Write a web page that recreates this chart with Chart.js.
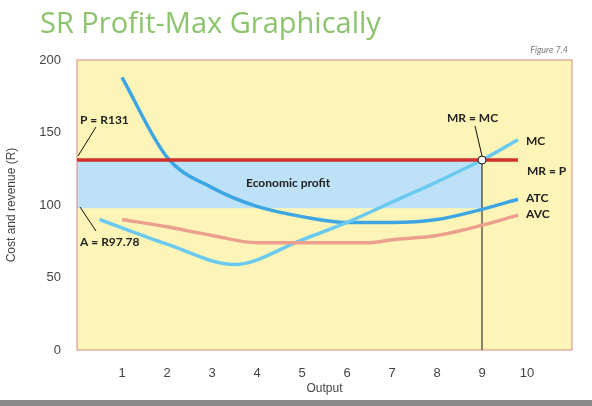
<!DOCTYPE html>
<html><head><meta charset="utf-8">
<script src="https://cdn.jsdelivr.net/npm/chart.js@4"></script>
<style>
body{margin:0;background:#fff;width:592px;height:406px;overflow:hidden;font-family:Lato,"Open Sans",sans-serif;position:relative}
#title{position:absolute;left:40px;top:2px;font-family:"Open Sans",sans-serif;font-size:29px;color:#8cc46e;z-index:2}
#fig{position:absolute;right:24px;top:44px;font-size:9px;font-style:italic;color:#777;z-index:2}
#bar{position:absolute;left:0;bottom:0;width:592px;height:6px;background:#8a8a8a}
#c{position:absolute;left:0;top:0}
</style></head>
<body>
<canvas id="c" width="592" height="400" style="width:592px;height:400px"></canvas>
<div id="title">SR Profit-Max Graphically</div>
<div id="fig">Figure 7.4</div>
<div id="bar"></div>
<script>
const xTicks = [1, 2, 3, 4, 5, 6, 7, 8, 9, 10];
const yTicks = [0, 50, 100, 150, 200];
const price = 131;
const avgCost = 97.78;
const qStar = 9;
const atcX = [1, 2, 3, 4, 5, 6, 7, 8, 9, 9.8];
const atcY = [188, 133, 112, 99, 92, 88, 88, 90, 97, 104];
const mcX = [0.5, 2, 3.5, 5, 6, 7, 8, 9, 9.8];
const mcY = [90, 73, 59, 76, 88, 102, 116, 131, 145];
const avcX = [1, 2, 3, 4, 5, 6, 6.5, 7, 8, 9, 9.8];
const avcY = [90, 85, 79, 74, 74, 74, 74, 76, 79, 86, 93];

const pts = (xs, ys) => xs.map((x, i) => ({x: x, y: ys[i]}));

const decor = {
  id: 'decor',
  beforeDatasetsDraw(chart) {
    const {ctx, chartArea: a, scales: {x, y}} = chart;
    ctx.save();
    ctx.fillStyle = '#fdf5b8';
    ctx.fillRect(a.left, a.top, a.right - a.left, a.bottom - a.top);
    ctx.fillStyle = '#bde1f6';
    ctx.fillRect(a.left, y.getPixelForValue(price), x.getPixelForValue(qStar) - a.left,
      y.getPixelForValue(avgCost) - y.getPixelForValue(price));
    ctx.strokeStyle = '#d98a80';
    ctx.lineWidth = 1;
    ctx.strokeRect(a.left, a.top, a.right - a.left, a.bottom - a.top);
    ctx.strokeStyle = '#111';
    ctx.beginPath();
    ctx.moveTo(x.getPixelForValue(qStar), a.bottom);
    ctx.lineTo(x.getPixelForValue(qStar), y.getPixelForValue(price));
    ctx.stroke();
    ctx.restore();
  },
  afterDatasetsDraw(chart) {
    const {ctx, scales: {x, y}} = chart;
    ctx.save();
    ctx.strokeStyle = '#d2302c';
    ctx.lineWidth = 3.5;
    ctx.beginPath();
    ctx.moveTo(x.getPixelForValue(0), y.getPixelForValue(price));
    ctx.lineTo(x.getPixelForValue(9.8), y.getPixelForValue(price));
    ctx.stroke();
    ctx.strokeStyle = '#111';
    ctx.lineWidth = 1;
    ctx.beginPath();
    ctx.moveTo(96, 127); ctx.lineTo(78, 156);
    ctx.moveTo(80, 207); ctx.lineTo(96, 231);
    ctx.moveTo(475, 126); ctx.lineTo(482, 156);
    ctx.stroke();
    ctx.fillStyle = '#fff';
    ctx.beginPath();
    ctx.arc(x.getPixelForValue(qStar), y.getPixelForValue(price), 4, 0, Math.PI * 2);
    ctx.fill(); ctx.stroke();
    ctx.fillStyle = '#222';
    ctx.font = 'bold 12px Lato, sans-serif';
    ctx.textBaseline = 'middle';
    ctx.fillText('P = R131', 80, 120);
    ctx.fillText('A = R97.78', 80, 242);
    ctx.fillText('MR = MC', 447, 118);
    ctx.fillText('MC', 526, 141);
    ctx.fillText('MR = P', 527, 171);
    ctx.fillText('ATC', 526, 198);
    ctx.fillText('AVC', 526, 214);
    ctx.fillText('Economic profit', 246, 183);
    ctx.restore();
  }
};

new Chart(document.getElementById('c'), {
  type: 'line',
  data: {
    datasets: [
      {data: pts(avcX, avcY), borderColor: '#eba08f', borderWidth: 3.5},
      {data: pts(mcX, mcY), borderColor: '#6ccaf0', borderWidth: 3.5, tension: 0},
      {data: pts(atcX, atcY), borderColor: '#3fa6e4', borderWidth: 3.5}
    ]
  },
  options: {
    responsive: false, animation: false,
    layout: {padding: {top: 60, right: 20, left: 0, bottom: 0}},
    elements: {point: {radius: 0}, line: {tension: 0.4, cubicInterpolationMode: 'monotone'}},
    plugins: {legend: {display: false}, tooltip: {enabled: false}},
    scales: {
      x: {type: 'linear', min: 0, max: 11,
        afterBuildTicks: s => { s.ticks = xTicks.map(v => ({value: v})); },
        afterFit: s => { s.height = 50; },
        grid: {display: false}, border: {display: false},
        ticks: {color: '#444', font: {size: 13}, padding: 8},
        title: {display: true, text: 'Output', color: '#444', font: {size: 12}, padding: {top: 2}}},
      y: {min: 0, max: 200,
        afterBuildTicks: s => { s.ticks = yTicks.map(v => ({value: v})); },
        afterFit: s => { s.width = 77; },
        grid: {display: false}, border: {display: false},
        ticks: {color: '#444', font: {size: 13}, padding: 8},
        title: {display: true, text: 'Cost and revenue (R)', color: '#444', font: {size: 12}}}
    }
  },
  plugins: [decor]
});
</script>
</body></html>
